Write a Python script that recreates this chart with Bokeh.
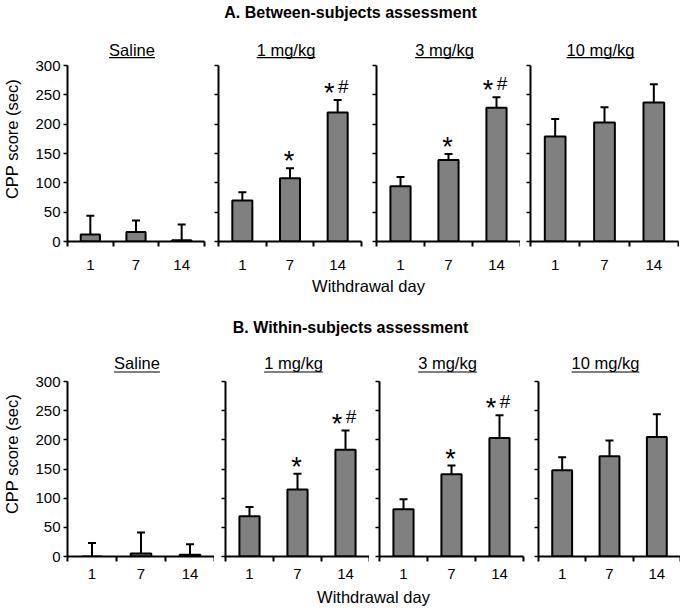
from bokeh.plotting import figure
from bokeh.layouts import column, row
from bokeh.models import Range1d, FixedTicker, ColumnDataSource, Whisker, TeeHead
from bokeh.core.properties import value
from bokeh.embed import file_html
from bokeh.resources import INLINE

FONT = "Liberation Sans"

# ---------------- data ----------------
days = ["1", "7", "14"]
doses = ["Saline", "1 mg/kg", "3 mg/kg", "10 mg/kg"]
y_ticks = [0, 50, 100, 150, 200, 250, 300]

title_a = "A. Between-subjects assessment"
title_b = "B. Within-subjects assessment"
x_title = "Withdrawal day"
y_title = "CPP score (sec)"

a_saline = [12, 16, 2]
a_saline_err = [32, 20, 27]
a_1mg = [70, 108, 220]
a_1mg_err = [14, 17, 21]
a_3mg = [94, 139, 228]
a_3mg_err = [16, 10, 18]
a_10mg = [179, 203, 237]
a_10mg_err = [30, 26, 31]

b_saline = [0, 5, 3]
b_saline_err = [23, 36, 18]
b_1mg = [69, 115, 183]
b_1mg_err = [16, 27, 33]
b_3mg = [81, 141, 203]
b_3mg_err = [17, 15, 39]
b_10mg = [148, 172, 205]
b_10mg_err = [22, 27, 39]

sig_none = ["", "", ""]
sig_drug = ["", "*", "*#"]

# ---------------- style / geometry ----------------
BAR_FILL = "#808080"
FRAME_H = 205
ADV = {"S": 667, "a": 556, "l": 222, "i": 222, "n": 556, "e": 556, " ": 278,
       "m": 833, "g": 556, "/": 278, "k": 500}


def text_width(s, size):
    return sum(ADV.get(c, 556) for c in s) / 1000.0 * size


def panel(name, means, errs, sig, fw, lb, rb, ytop, sub_y, ul_y, mbb, x_standoff, first):
    p = figure(frame_width=fw, frame_height=FRAME_H,
               x_range=Range1d(-0.5, len(days) - 0.5), y_range=Range1d(0, ytop),
               output_backend="svg", toolbar_location=None,
               min_border_left=lb, min_border_right=rb, min_border_top=0,
               min_border_bottom=mbb)
    p.xgrid.visible = False
    p.ygrid.visible = False
    p.outline_line_color = None
    p.background_fill_color = "white"
    p.border_fill_color = "white"

    xs = list(range(len(days)))
    uppers = [m + e for m, e in zip(means, errs)]
    src = ColumnDataSource(dict(x=xs, top=means, upper=uppers, lower=means))
    p.vbar(x="x", top="top", width=0.42, source=src, fill_color=BAR_FILL,
           line_color="black", line_width=2)
    p.add_layout(Whisker(base="x", upper="upper", lower="lower", source=src,
                         dimension="height", line_color="black", line_width=2,
                         upper_head=TeeHead(size=8, line_color="black", line_width=2),
                         lower_head=None))

    # significance marks
    sx, sy, sxo = [], [], []
    hx, hy = [], []
    for i, s in enumerate(sig):
        if "*" in s:
            sx.append(xs[i]); sy.append(uppers[i])
            sxo.append(-8.5 if "#" in s else -1)
        if "#" in s:
            hx.append(xs[i]); hy.append(uppers[i])
    if sx:
        p.text(x="x", y="y", text="t", x_offset="xo",
               source=ColumnDataSource(dict(x=sx, y=sy, xo=sxo, t=["*"] * len(sx))),
               text_font=value(FONT), text_font_size="27px", text_align="center",
               text_baseline="middle", y_offset=-7, text_color="black")
    if hx:
        p.text(x="x", y="y", text="t",
               source=ColumnDataSource(dict(x=hx, y=hy, t=["#"] * len(hx))),
               text_font=value(FONT), text_font_size="19px", text_align="center",
               text_baseline="middle", x_offset=5.5, y_offset=-14, text_color="black")

    # underlined subtitle
    band = fw / len(days)
    cx = 1 - 4.0 / band
    half = text_width(name, 16.5) / 2.0 / band
    p.text(x=[cx], y=[sub_y], text=[name], text_font=value(FONT),
           text_font_size="16.5px", text_align="center", text_baseline="middle",
           text_color="black")
    p.segment(x0=[cx - half], x1=[cx + half], y0=[ul_y], y1=[ul_y],
              line_color="black", line_width=1.2)

    # x axis: boundary ticks as minor ticks, labels at centres
    xa = p.xaxis[0]
    xa.ticker = FixedTicker(ticks=xs, minor_ticks=[x - 0.5 for x in xs] + [xs[-1] + 0.5])
    xa.major_label_overrides = {x: d for x, d in zip(xs, days)}
    xa.major_tick_line_color = None
    xa.major_tick_out = 5
    xa.major_tick_in = 0
    xa.minor_tick_out = 5
    xa.minor_tick_in = 0
    xa.minor_tick_line_width = 2
    xa.minor_tick_line_color = "black"
    xa.axis_line_width = 2
    xa.major_label_standoff = x_standoff
    xa.major_label_text_font = FONT
    xa.major_label_text_font_size = "15px"
    xa.major_label_text_color = "black"

    ya = p.yaxis[0]
    ya.ticker = FixedTicker(ticks=y_ticks)
    ya.bounds = (y_ticks[0], y_ticks[-1])
    ya.axis_line_width = 2
    ya.major_tick_out = 4
    ya.major_tick_in = 0
    ya.major_tick_line_width = 1.5
    ya.minor_tick_line_color = None
    ya.major_label_text_font = FONT
    ya.major_label_text_font_size = "15px"
    ya.major_label_text_color = "black"
    if first:
        ya.major_label_standoff = 3
        ya.axis_label = y_title
        ya.axis_label_text_font = FONT
        ya.axis_label_text_font_size = "16.5px"
        ya.axis_label_text_font_style = "normal"
        ya.axis_label_text_color = "black"
        ya.axis_label_standoff = 11
    else:
        ya.major_label_standoff = 0
        ya.major_label_overrides = {t: "" for t in y_ticks}
    return p


def text_strip(w, h, items):
    p = figure(width=w, height=h, x_range=Range1d(0, w),
               y_range=Range1d(h, 0), output_backend="svg", toolbar_location=None,
               min_border=0)
    p.axis.visible = False
    p.xgrid.visible = False
    p.ygrid.visible = False
    p.outline_line_color = None
    for (x, y, t, size, style) in items:
        p.text(x=[x], y=[y], text=[t], text_font=value(FONT), text_font_size=size,
               text_font_style=style, text_align="center", text_baseline="middle",
               text_color="black")
    return p


ytop_a = FRAME_H * 300 / 176.0
ytop_b = FRAME_H * 300 / 175.0
rows_a = [(a_saline, a_saline_err, sig_none), (a_1mg, a_1mg_err, sig_drug),
          (a_3mg, a_3mg_err, sig_drug), (a_10mg, a_10mg_err, sig_none)]
rows_b = [(b_saline, b_saline_err, sig_none), (b_1mg, b_1mg_err, sig_drug),
          (b_3mg, b_3mg_err, sig_drug), (b_10mg, b_10mg_err, sig_none)]
geo_a = [(137, 65, 2), (143, 12, 3), (144, 12, 0), (148, 10, 1)]
geo_b = [(147, 65, 0), (144, 11, 0), (144, 10, 3), (142, 12, 0)]

figs_a = []
for k, ((m, e, s), (fw, lb, rb)) in enumerate(zip(rows_a, geo_a)):
    figs_a.append(panel(doses[k], m, e, s, fw, lb, rb, ytop_a, 327, 313.5, 36, 13, k == 0))
figs_b = []
for k, ((m, e, s), (fw, lb, rb)) in enumerate(zip(rows_b, geo_b)):
    figs_b.append(panel(doses[k], m, e, s, fw, lb, rb, ytop_b, 332.5, 316.3, 30, 7, k == 0))

W = 678
top_strip = text_strip(W, 36, [(350, 12, title_a, "16px", "bold")])
mid_strip = text_strip(W, 74, [(368, 8, x_title, "16.5px", "normal"),
                               (350, 50, title_b, "16px", "bold")])
bot_strip = text_strip(W, 26, [(373, 10, x_title, "16.5px", "normal")])

layout = column(top_strip, row(*figs_a), mid_strip, row(*figs_b), bot_strip)

open("out.html", "w").write(file_html(layout, INLINE))
